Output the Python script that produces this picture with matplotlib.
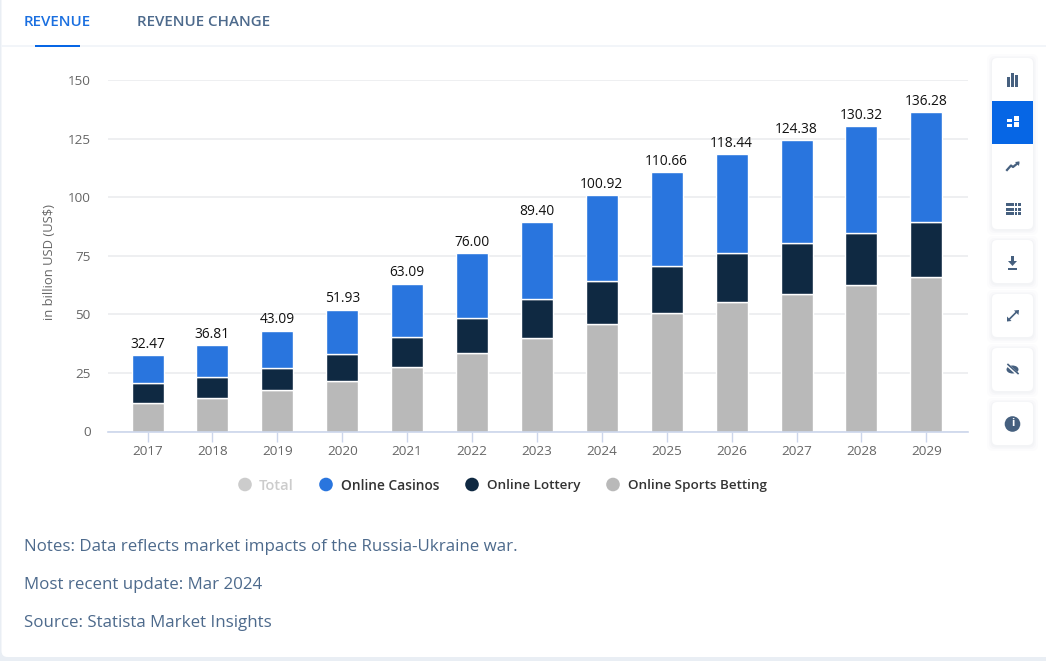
import matplotlib
matplotlib.use("Agg")
import matplotlib.pyplot as plt
from matplotlib.patches import FancyBboxPatch, Rectangle, Circle, Polygon, Ellipse

years = ["2017","2018","2019","2020","2021","2022","2023","2024","2025","2026","2027","2028","2029"]
sports = [12.3,14.2,17.7,21.5,27.5,33.5,39.9,46.0,50.6,55.2,58.5,62.4,65.8]
lottery = [8.3,9.2,9.5,11.6,12.8,14.9,16.6,18.2,20.0,21.1,22.1,22.4,23.5]
casinos = [11.87,13.41,15.89,18.83,22.79,27.6,32.9,36.72,40.06,42.14,43.78,45.52,46.98]
totals = ["32.47","36.81","43.09","51.93","63.09","76.00","89.40","100.92","110.66","118.44","124.38","130.32","136.28"]
y_ticks = [0,25,50,75,100,125,150]
legend_labels = ["Total","Online Casinos","Online Lottery","Online Sports Betting"]
notes = ["Notes: Data reflects market impacts of the Russia-Ukraine war.","Most recent update: Mar 2024","Source: Statista Market Insights"]
tabs = ["REVENUE","REVENUE CHANGE"]

BLUE="#2975de"; NAVY="#0f2942"; GRAY="#b9b9b9"; SLATE="#4d6a8c"; ACTIVE="#0666e5"; ICON="#46607f"
plt.rcParams['font.family']=['Open Sans','DejaVu Sans']
W,H=1046,661
fig=plt.figure(figsize=(W/100,H/100),dpi=100,facecolor="#e9eef4")

# pixel-space overlay for page furniture
ui=fig.add_axes([0,0,1,1],zorder=0); ui.set_xlim(0,W); ui.set_ylim(H,0); ui.axis("off")
ui.add_patch(FancyBboxPatch((1.5,-20),W+20,677,boxstyle="round,pad=0,rounding_size=6",fc="white",ec="none"))
ui.add_patch(Rectangle((1,45),W,2,fc="#f2f5f9",ec="none"))
ui.add_patch(Rectangle((35,45),45,2,fc=ACTIVE,ec="none"))
ui.text(23.5,22.5,tabs[0],color="#1a6fe0",fontsize=10.9,va="center",ha="left",fontweight=600)
ui.text(137,22.5,tabs[1],color=SLATE,fontsize=10.9,va="center",ha="left",fontweight=600)
for t,y in zip(notes,[547,585,623]):
    ui.text(24,y,t,color=SLATE,fontsize=12.2,va="center",ha="left")

# toolbar
def card(y0,y1):
    for i,a in [(5,.012),(3,.018),(1.5,.025)]:
        ui.add_patch(FancyBboxPatch((992-i,y0-i+1),41+2*i,y1-y0+2*i,boxstyle="round,pad=0,rounding_size=6",fc="#33507a",alpha=a,ec="none"))
    ui.add_patch(FancyBboxPatch((992,y0),41,y1-y0,boxstyle="round,pad=0,rounding_size=5",fc="white",ec="none"))
card(58,229); card(240,283); card(294,337); card(348,391); card(402,445)
ui.add_patch(Rectangle((992,101),41,43,fc=ACTIVE,ec="none"))
def R(x,y,w,h,c=ICON): ui.add_patch(Rectangle((x,y),w,h,fc=c,ec="none"))
R(1007,77,3,10); R(1011,73,3,14); R(1015,75,3,12)
R(1007,119,5,3,"white"); R(1007,123.5,5,3,"white"); R(1014,116,4.5,5,"white"); R(1014,122,4.5,5,"white")
ui.plot([1007,1011,1013,1018],[170,165.5,167,163],color=ICON,lw=1.6)
ui.add_patch(Polygon([(1015,162),(1019.5,161.5),(1019,166)],fc=ICON,ec="none"))
for y in (203,207.5,212):
    R(1006,y,7.5,3); R(1014.5,y,2.5,3); R(1018,y,2.5,3)
R(1011,256,3,7); ui.add_patch(Polygon([(1008,261),(1017,261),(1012.5,266)],fc=ICON,ec="none")); R(1008,268,9,1.8)
ui.plot([1009,1016.5],[319.5,312],color=ICON,lw=1.2)
ui.add_patch(Polygon([(1014,310.5),(1019,310),(1018.5,315)],fc=ICON,ec="none"))
ui.add_patch(Polygon([(1007,316.5),(1011.5,321),(1007,321.5)],fc=ICON,ec="none"))
ui.add_patch(Ellipse((1012.5,369.5),12,8,fc=ICON,ec="none"))
ui.plot([1007.5,1018],[365,374.5],color="white",lw=2.2); ui.plot([1008,1018],[364.5,373.5],color=ICON,lw=1.2)
ui.add_patch(Circle((1012.5,424),7.8,fc=ICON,ec="none"))
ui.text(1012.5,424,"i",color="white",fontsize=8,fontweight="bold",ha="center",va="center")

# chart: pixel-aligned axes
L,Rt,T,B=108,968,80,431.5
ax=fig.add_axes([L/W,1-B/H,(Rt-L)/W,(B-T)/H],zorder=1); ax.patch.set_alpha(0)
x=list(range(len(years)))
bw=32/64.9
ec=dict(edgecolor="white",linewidth=1.0)
ax.bar(x,sports,bw,color=GRAY,zorder=3,**ec)
ax.bar(x,lottery,bw,bottom=sports,color=NAVY,zorder=3,**ec)
bot2=[a+b for a,b in zip(sports,lottery)]
ax.bar(x,casinos,bw,bottom=bot2,color=BLUE,zorder=3,**ec)
for i,t in enumerate(totals):
    ax.annotate(t,(i,bot2[i]+casinos[i]),xytext=(0,2.4),textcoords="offset points",ha="center",va="bottom",
                fontsize=9.9,color="#111111",zorder=4)
ax.set_xlim((L-147.5)/64.9,(Rt-147.5)/64.9)
ax.set_ylim(0,150)
ax.set_yticks(y_ticks); ax.set_xticks(x); ax.set_xticklabels(years)
ax.grid(axis="y",color="#e9ebee",lw=1.1,zorder=0); ax.set_axisbelow(True)
for s in ("top","right","left"): ax.spines[s].set_visible(False)
ax.spines["bottom"].set_color("#ccd6eb"); ax.spines["bottom"].set_linewidth(1.2); ax.spines["bottom"].set_zorder(5)
ax.tick_params(axis="y",length=0,pad=12.5,labelsize=9.7,labelcolor="#666666")
ax.tick_params(axis="x",length=7,width=1,color="#ccd6eb",pad=2.5,labelsize=9.7,labelcolor="#666666")
ax.set_ylabel("in billion USD (US$)",fontsize=9.4,color="#666666")
ax.yaxis.set_label_coords((56-L)/(Rt-L),(B-262)/(B-T))

# legend
items=[(245,259,"#cccccc","#cccccc"),(326,341,BLUE,"#333333"),(472,487,NAVY,"#333333"),(613,628,GRAY,"#333333")]
sizes=[10.6,9.9,9.7,9.7]
for (cx,tx,c,tc),lab,fs in zip(items,legend_labels,sizes):
    ui.add_patch(Circle((cx,484.5),6.8,fc=c,ec="none"))
    ui.text(tx,486,lab,color=tc,fontsize=fs,fontweight=600,va="center",ha="left")
fig.savefig("out.png",dpi=100,facecolor=fig.get_facecolor())
